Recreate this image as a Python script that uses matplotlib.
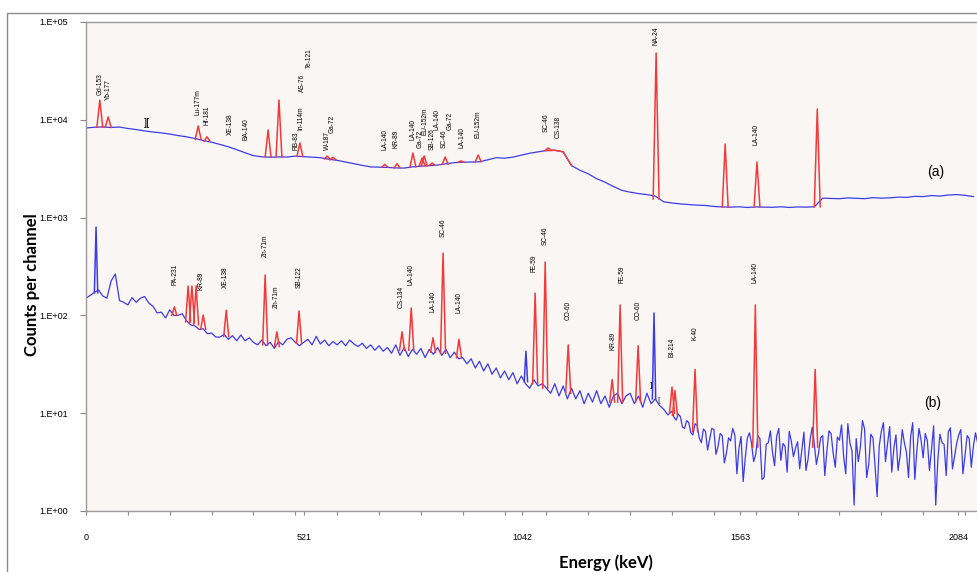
import numpy as np
import matplotlib
matplotlib.use('Agg')
import matplotlib.pyplot as plt
from matplotlib.patches import Rectangle

BLUE = '#3c3ce6'
RED = '#f23a3a'

# spectrum (a): continuum, one value every 20 keV from 0 keV
a_step = 20
a_counts = [8240, 8400, 8450, 8350, 8430, 8150, 7950, 7700, 7500, 7350,
            7150, 6900, 6700, 6450, 6150, 5900, 5600, 5300, 4950, 4600,
            4300, 4180, 4150, 4170, 4160, 4250, 4200, 4150, 4100, 3950,
            3850, 3700, 3560, 3420, 3300, 3280, 3260, 3220, 3210, 3300,
            3350, 3400, 3450, 3550, 3650, 3680, 3700, 3720, 3900, 4100,
            4050, 4150, 4350, 4550, 4700, 4850, 4880, 4700, 3400, 3050,
            2800, 2500, 2300, 2080, 1900, 1820, 1760, 1720, 1660, 1450,
            1410, 1380, 1360, 1340, 1330, 1300, 1285, 1280, 1290, 1270,
            1285, 1280, 1275, 1290, 1270, 1285, 1280, 1290, 1580, 1570,
            1560, 1590, 1575, 1560, 1600, 1580, 1590, 1620, 1610, 1650,
            1640, 1680, 1660, 1700, 1720, 1690, 1640]

# spectrum (b): continuum, every 10 keV from 0 to 1390 keV ...
b_step = 10
b_counts = [150, 160, 172, 182, 158, 150, 225, 265, 142, 136,
            128, 152, 136, 150, 156, 134, 124, 106, 108, 94,
            114, 100, 100, 104, 88, 80, 78, 72, 73, 65,
            66, 60, 60, 64, 57, 62, 55, 63, 55, 59,
            53, 50, 56, 49, 53, 46, 54, 50, 57, 59,
            53, 49, 53, 57, 50, 61, 51, 56, 49, 54,
            50, 55, 49, 56, 51, 48, 52, 46, 50, 44,
            49, 43, 47, 41, 50, 39, 47, 38, 45, 40,
            46, 37, 45, 40, 47, 39, 45, 37, 42, 36,
            37, 32, 36, 29, 34, 27, 32, 25, 29, 23,
            27, 22, 26, 20, 24, 20, 18, 22, 19, 20,
            18, 16, 20, 15, 19, 14, 18, 14, 17, 12.5,
            16, 13, 17, 12.5, 15, 11.5, 15, 16, 12.5, 15,
            16, 12.5, 15, 11.5, 16, 12.5, 14, 12, 11, 9.6]
# ... and every 5 keV from 1400 keV on, where the counts get noisy
b_tail_start = 1400
b_tail_step = 5
b_tail = [10.5, 9.0, 8.5, 9.8, 9.2, 7.2, 7.0, 8.4, 8.0, 6.3,
          6.0, 7.8, 7.5, 5.6, 5.0, 6.9, 6.5, 4.2, 5.4, 7.0,
          6.8, 3.8, 4.6, 6.2, 5.9, 3.1, 3.9, 5.6, 5.2, 7.0,
          6.0, 2.4, 4.4, 5.8, 2.0, 3.5, 5.6, 6.3, 4.9, 3.2,
          3.8, 5.9, 5.5, 2.1, 2.2, 4.8, 5.0, 6.6, 4.0, 2.9,
          5.8, 7.0, 3.3, 4.9, 4.6, 2.5, 6.5, 5.2, 3.6, 4.4,
          5.1, 2.7, 4.2, 6.4, 2.6, 3.4, 5.4, 7.2, 4.8, 3.0,
          3.9, 5.6, 5.9, 2.3, 4.1, 6.6, 6.2, 3.9, 2.8, 5.7,
          5.3, 7.6, 3.6, 2.4, 7.8, 5.0, 4.1, 1.15, 5.5, 3.2,
          4.5, 8.4, 6.9, 2.2, 3.0, 6.1, 5.6, 2.9, 1.4, 4.6,
          6.5, 8.0, 3.2, 4.9, 7.3, 2.5, 4.4, 6.0, 2.6, 3.7,
          6.8, 5.0, 4.0, 2.2, 5.7, 8.0, 2.1, 4.2, 7.0, 5.3,
          3.5, 6.2, 5.2, 2.6, 4.3, 7.4, 1.15, 3.3, 6.1, 5.0,
          4.8, 2.3, 6.4, 7.1, 2.7, 3.6, 4.9, 6.0, 6.8, 2.4,
          3.7, 5.9, 5.5, 2.8, 4.6, 6.3, 5.0]

# identified peaks: energy (keV), top, continuum under the peak
a_peak_e = [33, 53, 268, 289, 435, 461, 511, 576, 590, 714, 743, 781, 803,
            808, 827, 858, 896, 937, 1104, 1362, 1527, 1603, 1747]
a_peak_top = [15900, 10700, 8650, 6700, 7870, 15900, 5800, 4250, 4150, 3500,
              3560, 4570, 4070, 4270, 3610, 4170, 3800, 4370, 5150, 48200,
              5650, 3700, 12900]
a_peak_base = [8400, 8400, 6300, 6050, 4170, 4170, 4220, 3980, 3900, 3280,
               3220, 3300, 3380, 3380, 3420, 3520, 3680, 3720, 4860, 1550,
               1285, 1285, 1290]

b_peak_e = [211, 244, 253, 263, 280, 335, 428, 456, 509, 755, 777, 829, 853,
            891, 1073, 1097, 1152, 1257, 1276, 1319, 1400, 1407, 1455, 1599, 1742]
b_peak_top = [122, 200, 200, 200, 101, 113, 259, 68, 111, 68, 119, 59, 434,
              57, 169, 352, 50, 22, 128, 49, 18.5, 17, 28, 128, 28]
b_peak_base = [100, 86, 84, 80, 72, 61, 50, 48, 52, 44, 44, 42, 41,
               37, 20, 18, 16, 13, 13, 13, 10, 9.5, 6.5, 4.5, 4.5]

# unlabelled spikes of (b), drawn in the continuum colour
b_blue_e = [24, 1051, 1357]
b_blue_top = [800, 43, 106]
b_blue_base = [170, 21, 14]

# nuclide labels: name, energy, height of the label foot
a_labels = ['Gd-153', 'Yb-177', 'Lu-177m', 'Hf-181', 'XE-138', 'BA-140', 'RB-83',
            'In-114m', 'AS-76', 'Te-121', 'W-187', 'Ga-72', 'LA-140', 'KR-89',
            'LA-140', 'Ga-72', 'EU-152m', 'SB-126', 'LA-140', 'SC-46', 'Ga-72',
            'LA-140', 'EU-152m', 'SC-46', 'CS-138', 'NA-24', 'LA-140']
a_label_e = [33, 53, 268, 289, 344, 382, 502, 514, 518, 533, 576, 588, 714, 741,
             781, 798, 810, 827, 839, 855, 870, 898, 937, 1099, 1128, 1362, 1601]
a_label_y = [17900, 15900, 11200, 8850, 6990, 6200, 4900, 7900, 19300, 33900,
             4900, 7300, 4900, 5150, 6200, 5150, 6990, 4900, 7900, 5150, 7900,
             5150, 6500, 7500, 6500, 58000, 5500]

b_labels = ['PA-231', 'KR-89', 'XE-138', 'Zn-71m', 'Zn-71m', 'SB-122', 'CS-134',
            'LA-140', 'LA-140', 'SC-46', 'LA-140', 'FE-59', 'SC-46', 'CO-60',
            'KR-89', 'FE-59', 'CO-60', 'BI-214', 'K-40', 'LA-140']
b_label_e = [213, 275, 332, 428, 454, 509, 753, 777, 829, 853, 891, 1070, 1097,
             1152, 1259, 1281, 1319, 1400, 1455, 1599]
b_label_y = [205, 182, 191, 395, 119, 191, 119, 205, 108, 633, 106, 278, 525,
             90, 44, 215, 90, 37.5, 56, 215]

y_ticks = [1, 10, 100, 1000, 10000, 100000]
x_ticks = [0, 521, 1042, 1563, 2084]

SANS = ['Liberation Sans', 'DejaVu Sans']
BOLD = ['Lato', 'DejaVu Sans']

fig = plt.figure(figsize=(9.78, 5.72), dpi=100)
ax = fig.add_axes([86 / 978, 1 - 511 / 572, 1 - 86 / 978, 489 / 572])
ax.set_facecolor('#faf6f4')

a_e = np.arange(len(a_counts)) * a_step
a_arr = np.array(a_counts, dtype=float)
b_e = np.concatenate([np.arange(len(b_counts)) * b_step,
                      b_tail_start + np.arange(len(b_tail)) * b_tail_step])
b_arr = np.array(b_counts + b_tail, dtype=float)

ax.plot(a_e, a_arr, color=BLUE, lw=0.9, zorder=2)
ax.plot(b_e, b_arr, color=BLUE, lw=0.9, zorder=2)

# CS-138 shoulder coloured as a peak region
sel = (a_e >= 1100) & (a_e <= 1160)
ax.plot(a_e[sel], a_arr[sel], color=RED, lw=1.1, zorder=3)


def draw_peaks(energies, tops, bases, color, w):
    for e, t, b in zip(energies, tops, bases):
        ax.plot([e - w, e, e + w], [b, t, b], color=color, lw=1.1, zorder=3)


draw_peaks(a_peak_e, a_peak_top, a_peak_base, RED, 7)
draw_peaks(b_peak_e, b_peak_top, b_peak_base, RED, 6)
draw_peaks(b_blue_e, b_blue_top, b_blue_base, BLUE, 4)

for name, e, y in zip(a_labels + b_labels, a_label_e + b_label_e, a_label_y + b_label_y):
    ax.text(e, y, name, rotation=90, ha='center', va='bottom', fontsize=4.7,
            family=SANS, zorder=4)

ax.text(145, 9300, '][', fontsize=8, ha='center', va='center', family=SANS)
ax.text(1350, 19, ']', fontsize=6, ha='center', va='center', family=SANS)
ax.text(1369, 13.5, '[', fontsize=6, ha='center', va='center', family=SANS,
        color='#333300')
ax.text(2029, 2900, '(a)', fontsize=10, ha='center', va='center', family=SANS)
ax.text(2022, 12.7, '(b)', fontsize=10, ha='center', va='center', family=SANS)

ax.set_yscale('log')
ax.set_ylim(1, 1e5)
ax.set_xlim(0, 2131)
ax.set_yticks(y_ticks)
ax.set_yticklabels([f'1.E+{int(np.log10(t)):02d}' for t in y_ticks])
ax.yaxis.set_minor_locator(matplotlib.ticker.NullLocator())
ax.set_xticks(x_ticks)
ax.set_xticks(np.arange(100, 2131, 100), minor=True)
ax.tick_params(axis='y', which='major', direction='out', length=4, width=0.8,
               color='#888888', labelsize=6.5, pad=9)
ax.tick_params(axis='x', which='both', direction='out', length=3, width=0.8,
               color='#888888', labelsize=6.5, pad=13)
for lab in ax.get_xticklabels() + ax.get_yticklabels():
    lab.set_family(SANS)

for side in ['left', 'top', 'bottom']:
    ax.spines[side].set_color('#9a9a9a')
    ax.spines[side].set_linewidth(1.0)
ax.spines['right'].set_visible(False)

fig.text(32 / 978, 1 - 285 / 572, 'Counts per channel', rotation=90, fontsize=12,
         fontweight='bold', family=BOLD, ha='center', va='center')
fig.text(606 / 978, 1 - 563 / 572, 'Energy (keV)', fontsize=12,
         fontweight='bold', family=BOLD, ha='center', va='center')

fig.patches.append(Rectangle((7 / 978, -0.1), 1.2, 1.1 - 12.5 / 572,
                             transform=fig.transFigure, fill=False,
                             ec='#8c8c8c', lw=1.0))

fig.savefig('out.png', dpi=100, facecolor='white')
